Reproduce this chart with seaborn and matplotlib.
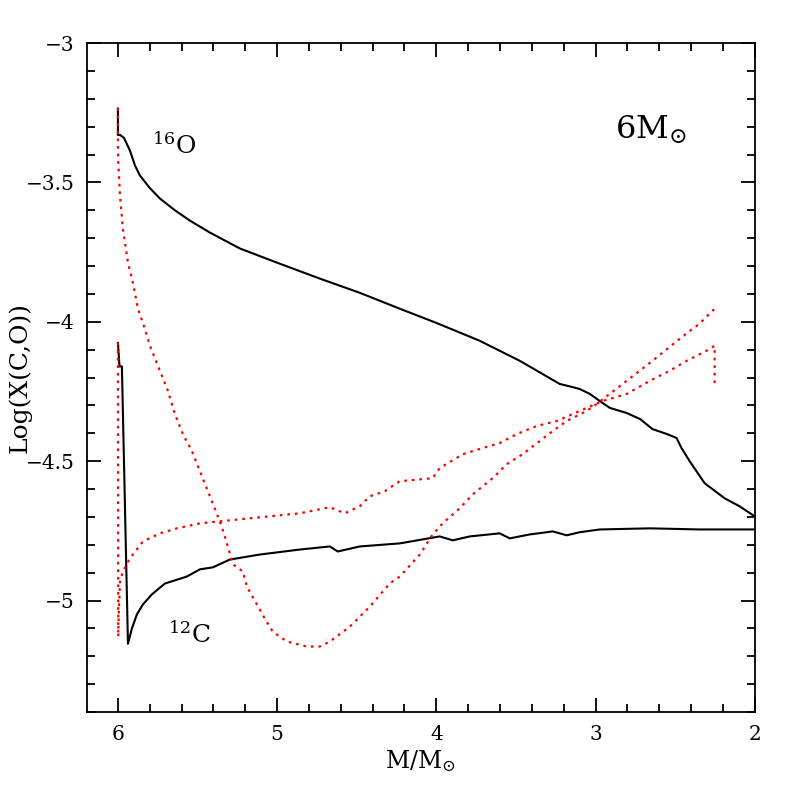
import numpy as np
import pandas as pd
import matplotlib
matplotlib.use("Agg")
import matplotlib.pyplot as plt
import seaborn as sns
from matplotlib.ticker import MultipleLocator, FuncFormatter

# black, 16O
o16_x = [6.0, 6.0, 5.985, 5.975, 5.962, 5.925, 5.893, 5.862, 5.80, 5.736, 5.642, 5.548,
         5.422, 5.234, 5.0, 4.732, 4.481, 4.23, 4.0, 3.728, 3.476, 3.225, 3.16, 3.10,
         3.035, 2.974, 2.91, 2.805, 2.72, 2.642, 2.55, 2.491, 2.46, 2.409, 2.315, 2.19,
         2.095, 2.0]
o16_y = [-3.234, -3.33, -3.33, -3.335, -3.34, -3.385, -3.439, -3.475, -3.52, -3.558, -3.60,
         -3.637, -3.68, -3.737, -3.788, -3.845, -3.896, -3.953, -4.004, -4.068, -4.14,
         -4.223, -4.232, -4.241, -4.259, -4.284, -4.309, -4.327, -4.349, -4.385, -4.403,
         -4.417, -4.453, -4.50, -4.579, -4.633, -4.662, -4.698]

# black, 12C
c12_x = [6.0, 5.99, 5.975, 5.937, 5.912, 5.881, 5.843, 5.787, 5.705, 5.567, 5.485, 5.404,
         5.297, 5.109, 4.857, 4.669, 4.619, 4.481, 4.23, 3.979, 3.897, 3.79, 3.602, 3.539,
         3.414, 3.269, 3.181, 3.10, 2.974, 2.66, 2.347, 2.0]
c12_y = [-4.075, -4.16, -4.16, -5.155, -5.10, -5.05, -5.014, -4.978, -4.939, -4.914,
         -4.888, -4.881, -4.853, -4.835, -4.817, -4.806, -4.824, -4.806, -4.795, -4.770,
         -4.784, -4.770, -4.759, -4.777, -4.763, -4.752, -4.766, -4.755, -4.745, -4.741,
         -4.745, -4.745]

# red dotted, 16O (second model)
o16b_x = [6.0, 6.0, 5.998, 5.987, 5.969, 5.937, 5.906, 5.874, 5.831, 5.799, 5.736, 5.686,
          5.642, 5.592, 5.535, 5.485, 5.422, 5.36, 5.328, 5.278, 5.215, 5.19, 5.127, 5.077,
          5.027, 4.939, 4.814, 4.732, 4.669, 4.544, 4.418, 4.293, 4.23, 4.104, 4.023, 3.96,
          3.853, 3.771, 3.646, 3.558, 3.458, 3.351, 3.269, 3.181, 3.056, 2.993, 2.805,
          2.642, 2.472, 2.347, 2.252]
o16b_y = [-3.234, -3.35, -3.428, -3.547, -3.665, -3.788, -3.86, -3.953, -4.025, -4.086,
          -4.176, -4.248, -4.331, -4.403, -4.464, -4.536, -4.626, -4.716, -4.77, -4.87,
          -4.896, -4.95, -5.014, -5.065, -5.112, -5.147, -5.165, -5.165, -5.147, -5.094,
          -5.022, -4.939, -4.914, -4.835, -4.763, -4.723, -4.669, -4.619, -4.561, -4.511,
          -4.475, -4.428, -4.392, -4.356, -4.32, -4.295, -4.212, -4.14, -4.061, -4.007,
          -3.953]

# red dotted, 12C (second model)
c12b_x = [6.0, 5.998, 5.995, 5.987, 5.969, 5.925, 5.843, 5.736, 5.63, 5.485, 5.171, 4.857,
          4.669, 4.575, 4.481, 4.418, 4.324, 4.23, 4.023, 3.979, 3.834, 3.709, 3.602, 3.495,
          3.37, 3.244, 3.10, 2.955, 2.805, 2.66, 2.535, 2.428, 2.303, 2.252, 2.252]
c12b_y = [-4.075, -5.13, -5.05, -4.932, -4.896, -4.849, -4.788, -4.759, -4.741, -4.723,
          -4.705, -4.687, -4.665, -4.687, -4.662, -4.626, -4.608, -4.572, -4.561, -4.525,
          -4.475, -4.453, -4.435, -4.403, -4.374, -4.356, -4.32, -4.284, -4.259, -4.212,
          -4.176, -4.14, -4.104, -4.086, -4.237]

sns.set_style("ticks")
plt.rcParams['font.family'] = ['DejaVu Serif']
plt.rcParams['mathtext.fontset'] = 'dejavuserif'
for k in ['text.color', 'axes.labelcolor', 'xtick.color', 'ytick.color']:
    plt.rcParams[k] = 'black'

fig = plt.figure(figsize=(7.97, 7.97), dpi=100)
ax = fig.add_axes([0.109, 0.1066, 0.838, 0.8394])

sns.lineplot(x=o16_x, y=o16_y, sort=False, estimator=None, color='black', lw=1.5, ax=ax)
sns.lineplot(x=c12_x, y=c12_y, sort=False, estimator=None, color='black', lw=1.5, ax=ax)
sns.lineplot(x=o16b_x, y=o16b_y, sort=False, estimator=None, color='red', lw=1.6, ax=ax)
sns.lineplot(x=c12b_x, y=c12b_y, sort=False, estimator=None, color='red', lw=1.6, ax=ax)
for l in ax.lines[2:]:
    l.set_dashes((1.2, 2.2))

ax.set_xlim(6.195, 2.0)
ax.set_ylim(-5.4, -3.0)
ax.xaxis.set_major_locator(MultipleLocator(1))
ax.xaxis.set_minor_locator(MultipleLocator(0.2))
ax.yaxis.set_major_locator(MultipleLocator(0.5))
ax.yaxis.set_minor_locator(MultipleLocator(0.1))
fmt = FuncFormatter(lambda v, p: ('%g' % v).replace('-', '\u2212'))
ax.xaxis.set_major_formatter(fmt)
ax.yaxis.set_major_formatter(fmt)
ax.tick_params(which='both', direction='in', top=True, right=True, width=1.3,
               color='black', labelcolor='black', labelsize=14.5, pad=9)
ax.tick_params(which='major', length=10)
ax.tick_params(which='minor', length=5.5)
for s in ax.spines.values():
    s.set_linewidth(1.3)
    s.set_color('black')

ax.set_xlabel(r'M/M$_{\odot}$', fontsize=17, labelpad=3)
ax.set_ylabel('Log(X(C,O))', fontsize=18)
ax.yaxis.set_label_coords(-0.083, 0.5)

ax.text(5.787, -3.367, r'$^{16}$O', fontsize=18, va='center', ha='left')
ax.text(5.686, -5.12, r'$^{12}$C', fontsize=18, va='center', ha='left')
ax.text(2.88, -3.313, r'6M$_{\odot}$', fontsize=23, va='center', ha='left')

fig.savefig('out.png', dpi=100)
